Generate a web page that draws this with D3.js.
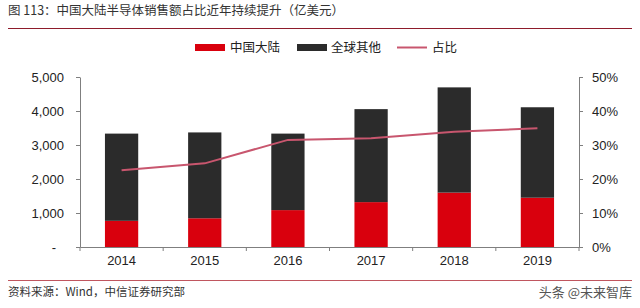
<!DOCTYPE html>
<html><head><meta charset="utf-8">
<script src="https://cdn.jsdelivr.net/npm/d3@7/dist/d3.min.js"></script>
<style>body{margin:0;background:#fff}svg{display:block}</style>
</head><body><svg id="c" width="640" height="308"></svg>
<script>
const years = ["2014","2015","2016","2017","2018","2019"];
const china = [770, 845, 1085, 1320, 1600, 1450];
const rest = [2565, 2525, 2250, 2735, 3095, 2660];
const share = [22.6, 24.6, 31.5, 32.0, 33.9, 34.9];
const leftTicks = [0, 1000, 2000, 3000, 4000, 5000];
const rightTicks = [0, 10, 20, 30, 40, 50];
const seriesNames = ["中国大陆", "全球其他", "占比"];
const title = "图 113：中国大陆半导体销售额占比近年持续提升（亿美元）";
const source = "资料来源：Wind，中信证券研究部";
const watermark = "头条 @未来智库";

const svg = d3.select("#c");
const font = "'Liberation Sans', Arial, 'Noto Sans CJK SC', sans-serif";
const cjk = "'Noto Sans CJK SC', sans-serif";
const RED = "#d9000d", DARK = "#2b2b2b", LINE = "#c8566e", AX = "#7f7f7f";

const x = d3.scaleBand().domain(years).range([80, 579]).paddingInner(0.6).paddingOuter(0.3);
const y = d3.scaleLinear().domain([0, 5000]).range([247, 77]);
const y2 = d3.scaleLinear().domain([0, 50]).range([247, 77]);

// title
svg.append("text").attr("x", 8).attr("y", 15).attr("font-family", cjk).attr("font-size", 12.5)
  .attr("fill", "#333").text(title);
svg.append("line").attr("x1", 8).attr("x2", 632).attr("y1", 28.5).attr("y2", 28.5)
  .attr("stroke", "#8e1b2b").attr("stroke-width", 1);

// bars
const g = svg.append("g");
years.forEach((yr, i) => {
  g.append("rect").attr("x", x(yr)).attr("width", x.bandwidth())
    .attr("y", y(china[i])).attr("height", y(0) - y(china[i])).attr("fill", RED);
  g.append("rect").attr("x", x(yr)).attr("width", x.bandwidth())
    .attr("y", y(china[i] + rest[i])).attr("height", y(china[i]) - y(china[i] + rest[i])).attr("fill", DARK);
});

// line
const line = d3.line().x((d, i) => x(years[i]) + x.bandwidth() / 2).y(d => y2(d));
svg.append("path").datum(share).attr("d", line).attr("fill", "none")
  .attr("stroke", LINE).attr("stroke-width", 2);

// axes
function style(sel) {
  sel.selectAll("path,line").attr("stroke", AX);
  sel.selectAll("text").attr("font-family", font).attr("font-size", 13).attr("fill", "#222");
}
const la = svg.append("g").attr("transform", "translate(80,0)")
  .call(d3.axisLeft(y).tickValues(leftTicks).tickSize(4).tickSizeOuter(0).tickPadding(12)
    .tickFormat(d => d === 0 ? "-" : d3.format(",")(d)));
style(la);
la.selectAll(".tick text").filter(d => d === 0).attr("dx", -8);
const ra = svg.append("g").attr("transform", "translate(579,0)")
  .call(d3.axisRight(y2).tickValues(rightTicks).tickSize(4).tickSizeOuter(0).tickPadding(9)
    .tickFormat(d => d + "%"));
style(ra);
const ba = svg.append("g").attr("transform", "translate(0,247)")
  .call(d3.axisBottom(x).tickSize(0).tickPadding(9));
style(ba);
// category boundary ticks
const bounds = years.map(yr => x(yr) - x.step() * x.paddingInner() / 2);
bounds.push(579);
ba.selectAll(".bt").data(bounds).enter().append("line").attr("class", "bt")
  .attr("x1", d => d).attr("x2", d => d).attr("y1", 0).attr("y2", 4).attr("stroke", AX);

// legend
const lg = svg.append("g");
lg.append("rect").attr("x", 195).attr("y", 44).attr("width", 30).attr("height", 7).attr("fill", RED);
lg.append("text").attr("x", 230).attr("y", 52).text(seriesNames[0]);
lg.append("rect").attr("x", 297).attr("y", 44).attr("width", 30).attr("height", 7).attr("fill", DARK);
lg.append("text").attr("x", 331).attr("y", 52).text(seriesNames[1]);
lg.append("line").attr("x1", 397).attr("x2", 427).attr("y1", 47.5).attr("y2", 47.5).attr("stroke", LINE).attr("stroke-width", 2);
lg.append("text").attr("x", 432).attr("y", 52).text(seriesNames[2]);
lg.selectAll("text").attr("font-family", cjk).attr("font-size", 12.5).attr("fill", "#222");

// footer
svg.append("line").attr("x1", 8).attr("x2", 632).attr("y1", 280.5).attr("y2", 280.5)
  .attr("stroke", "#c0565f").attr("stroke-width", 1);
svg.append("text").attr("x", 8).attr("y", 296).attr("font-family", cjk).attr("font-size", 11.5)
  .attr("fill", "#333").text(source);
svg.append("text").attr("x", 632).attr("y", 297).attr("text-anchor", "end").attr("font-family", cjk)
  .attr("font-size", 13).attr("fill", "#555").text(watermark);
</script></body></html>
